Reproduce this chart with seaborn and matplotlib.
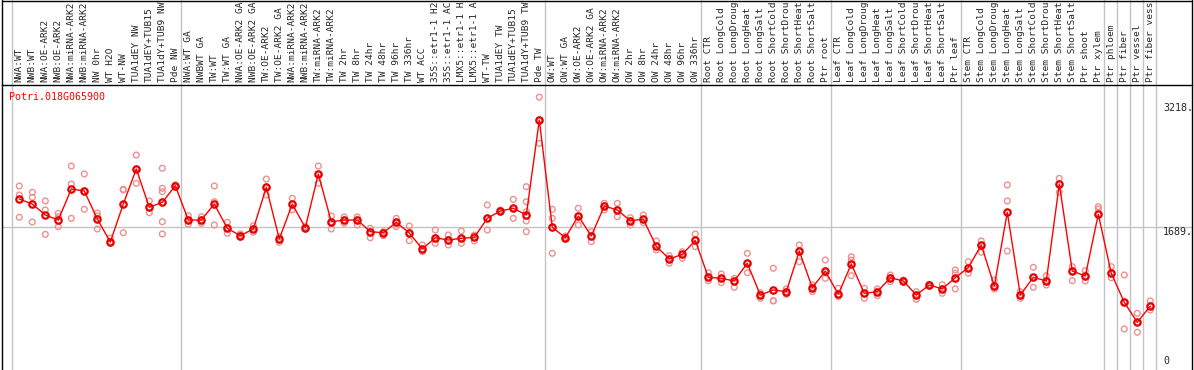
import numpy as np
import pandas as pd
import matplotlib
matplotlib.use("Agg")
import matplotlib.pyplot as plt
import seaborn as sns
from matplotlib.transforms import offset_copy
from matplotlib.lines import Line2D

gene_id = "Potri.018G065900"

# labels as shown in the reference (the source cuts them at 14 characters)
categories = [
    "NWA:WT", "NWB:WT", "NWA:OE-ARK2", "NWB:OE-ARK2", "NWA:miRNA-ARK2", "NWB:miRNA-ARK2",
    "NW 0hr", "WT H2O", "WT-NW", "TUA1dEY NW", "TUA1dEY+TUB15", "TUA1dY+TUB9 NW", "Pde NW",
    "NWA:WT GA", "NWBWT GA", "TW:WT", "TW:WT GA", "NWA:OE-ARK2 GA", "NWB:OE-ARK2 GA",
    "TW:OE-ARK2", "TW:OE-ARK2 GA", "NWA:miRNA-ARK2", "NWB:miRNA-ARK2", "TW:miRNA-ARK2",
    "TW:miRNA-ARK2", "TW 2hr", "TW 8hr", "TW 24hr", "TW 48hr", "TW 96hr", "TW 336hr", "WT ACC",
    "35S::etr1-1 H2", "35S::etr1-1 AC", "LMX5::etr1-1 H", "LMX5::etr1-1 A", "WT-TW",
    "TUA1dEY TW", "TUA1dEY+TUB15", "TUA1dY+TUB9 TW", "Pde TW",
    "OW:WT", "OW:WT GA", "OW:OE-ARK2", "OW:OE-ARK2 GA", "OW:miRNA-ARK2", "OW:miRNA-ARK2",
    "OW 2hr", "OW 8hr", "OW 24hr", "OW 48hr", "OW 96hr", "OW 336hr",
    "Root CTR", "Root LongCold", "Root LongDroug", "Root LongHeat", "Root LongSalt",
    "Root ShortCold", "Root ShortDrou", "Root ShortHeat", "Root ShortSalt", "Ptr root",
    "Leaf CTR", "Leaf LongCold", "Leaf LongDroug", "Leaf LongHeat", "Leaf LongSalt",
    "Leaf ShortCold", "Leaf ShortDrou", "Leaf ShortHeat", "Leaf ShortSalt", "Ptr leaf",
    "Stem CTR", "Stem LongCold", "Stem LongDroug", "Stem LongHeat", "Stem LongSalt",
    "Stem ShortCold", "Stem ShortDrou", "Stem ShortHeat", "Stem ShortSalt", "Ptr shoot",
    "Ptr xylem", "Ptr phloem", "Ptr fiber", "Ptr vessel", "Ptr fiber vess",
]

means = [
    2021, 1962, 1833, 1774, 2139, 2115, 1786, 1516, 1962, 2374, 1924, 1982, 2177,
    1774, 1774, 1962, 1677, 1590, 1669, 2159, 1551, 1962, 1684, 2315, 1754, 1774,
    1774, 1637, 1625, 1747, 1622, 1434, 1566, 1539, 1559, 1571, 1794, 1880, 1912,
    1833, 2949,
    1689, 1566, 1821, 1586, 1939, 1892, 1766, 1783, 1465, 1316, 1371, 1534,
    1101, 1089, 1058, 1266, 893, 952, 932, 1410, 979, 1175,
    901, 1257, 913, 932, 1096, 1058, 893, 1011, 964, 1096,
    1214, 1481, 999, 1865, 893, 1101, 1058, 2197, 1175, 1116,
    1841, 1148, 807, 572, 764,
]

replicates = [
    [2174, 2068, 1806], [2100, 2041, 1751], [1998, 1892, 1606], [1853, 1813, 1696],
    [2409, 2197, 1794], [2315, 2115, 1900], [1857, 1821, 1669], [1563, 1519, 1504],
    [2135, 2127, 1625], [2538, 2374, 2205], [1998, 1927, 1860],
    [2382, 2147, 2107, 1754, 1610], [2189, 2177, 2165],
    [1825, 1774, 1724], [1813, 1774, 1735], [2174, 1989, 1716], [1747, 1677, 1618],
    [1610, 1590, 1575], [1707, 1669, 1630], [2256, 2159, 2068], [1578, 1551, 1512],
    [2029, 1962, 1892], [1696, 1684, 1672], [2409, 2315, 2205], [1821, 1754, 1669],
    [1810, 1774, 1735], [1810, 1774, 1716], [1677, 1637, 1566], [1637, 1625, 1590],
    [1794, 1747, 1696], [1704, 1622, 1531], [1481, 1434, 1402], [1657, 1566, 1500],
    [1598, 1539, 1481], [1645, 1559, 1500], [1598, 1571, 1528], [1951, 1794, 1657],
    [1892, 1880, 1868], [2017, 1912, 1794], [2166, 1989, 1872, 1763, 1637],
    [3218, 2949, 2675],
    [1900, 1794, 1383], [1586, 1566, 1551], [1912, 1821, 1716], [1637, 1586, 1519],
    [1970, 1939, 1892], [1970, 1892, 1813], [1801, 1766, 1716], [1833, 1783, 1743],
    [1528, 1465, 1422], [1355, 1316, 1266], [1402, 1371, 1324], [1610, 1534, 1461],
    [1155, 1101, 1061], [1140, 1089, 1038], [1089, 1058, 983], [1383, 1266, 1155],
    [920, 893, 854], [1207, 826, 823], [964, 932, 901], [1481, 1402, 1284],
    [1011, 979, 932], [1304, 1175, 1089],
    [972, 901, 873], [1343, 1304, 1120], [972, 913, 854], [964, 932, 885],
    [1128, 1096, 1049], [1069, 1058, 1046], [932, 893, 842], [1019, 1011, 999],
    [1014, 964, 913], [1187, 1148, 964],
    [1284, 1214, 1148], [1528, 1481, 1395], [1069, 999, 964], [2186, 1998, 1410],
    [932, 893, 854], [1218, 1101, 983], [1120, 1058, 1011], [2264, 2197, 2100],
    [1226, 1175, 1061], [1179, 1116, 1058],
    [1931, 1904, 1841], [1226, 1148, 1096], [1128, 807, 494], [678, 572, 455],
    [823, 764, 717],
]

group_breaks = [-0.5, 12.5, 40.5, 52.5, 62.5, 72.5, 83.5, 84.5, 85.5, 86.5, 87.5]
axis_values = [0, 1689, 3218]
axis_labels = ["0", "1689.", "3218."]

mean_df = pd.DataFrame({"pos": np.arange(len(means)), "value": means})
rep_df = pd.DataFrame(
    [(i, v) for i, vals in enumerate(replicates) for v in vals], columns=["pos", "value"]
)

sns.set_style("white")
plt.rcParams["font.family"] = ["DejaVu Sans Mono"]

W, H = 1194, 370
fig = plt.figure(figsize=(W / 100, H / 100), dpi=100)
# plot panel: x from 1.5px to 1191.5px, y from 85px down to the bottom edge
ax = fig.add_axes([1.5 / W, 0, 1190 / W, 285 / H])

# pixel -> data mapping: x = 19.3 + 13 * i ; y = 371 - 0.0851 * v
ax.set_xlim((1.5 - 19.3) / 13, (1191.5 - 19.3) / 13)
ax.set_ylim(1 / 0.0851, 286 / 0.0851)

grey = "#c4c4c4"
ax.axhline(1689, color=grey, lw=1, zorder=0)
top_frac = H / 285
for b in group_breaks:
    ax.axvline(b - 0.08, ymin=0, ymax=top_frac, color=grey, lw=1, clip_on=False, zorder=0)

sns.scatterplot(data=rep_df, x="pos", y="value", ax=ax, marker="o", s=17,
                facecolors="none", edgecolors="#ef9090", linewidth=1.0, zorder=2)
sns.lineplot(data=mean_df, x="pos", y="value", ax=ax, color="#ff0000", lw=1,
             marker="o", markersize=4.6, mfc="none", mec="#e80000", mew=1.6, zorder=3)

ax.set_xlabel("")
ax.set_ylabel("")
ax.set_xticks([])
ax.set_yticks([])
for side in ["left", "top", "right"]:
    ax.spines[side].set_color("black")
    ax.spines[side].set_linewidth(1)
ax.spines["bottom"].set_visible(False)

# category labels above the panel
lab_tr = ax.get_xaxis_transform()
for i, name in enumerate(categories):
    ax.text(i, 1 + 3 / 285, name, rotation=90, ha="center", va="bottom",
            fontsize=6.8, transform=lab_tr, clip_on=False)

# value labels at the right, inside the panel, left aligned
val_tr = ax.get_yaxis_transform()
shifts = {0: (5, "bottom"), 1689: (0, "top"), 3218: (-6, "top")}
for v, lab in zip(axis_values, axis_labels):
    dy, va = shifts[v]
    tr = offset_copy(val_tr, fig=fig, x=-28.5, y=dy, units="dots")
    ax.text(1, v, lab, ha="left", va=va, fontsize=7.2, transform=tr)

fig.text(9.5 / W, 1 - 92 / H, gene_id, color="red", fontsize=7.2, ha="left", va="top")

# outer frame of the label area
fig.add_artist(Line2D([1.5 / W, 1191.5 / W], [1 - 0.5 / H, 1 - 0.5 / H], color="black", lw=1))
fig.add_artist(Line2D([1.5 / W, 1.5 / W], [285 / H, 1], color="black", lw=1))
fig.add_artist(Line2D([1191.5 / W, 1191.5 / W], [285 / H, 1], color="black", lw=1))

fig.savefig("out.png", dpi=100)
